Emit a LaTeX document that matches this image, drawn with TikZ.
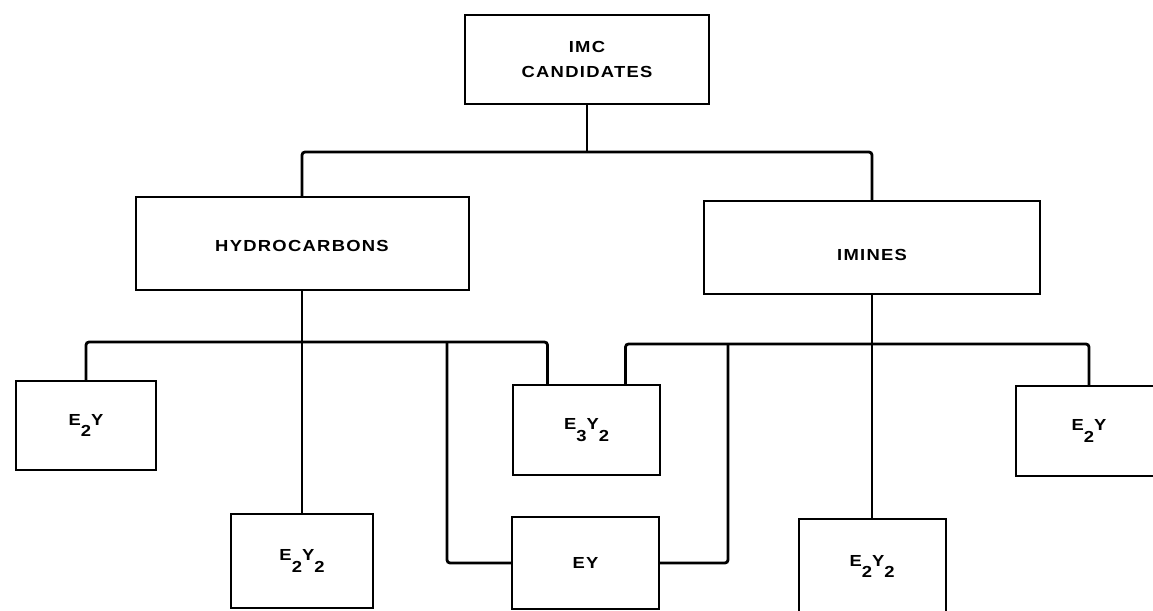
\documentclass[tikz,border=0pt]{standalone}
\usepackage{fontspec}
\newfontfamily\lbl[FakeStretch=1.15,LetterSpace=8]{Liberation Sans Bold}
\newcommand{\sbs}[1]{\raisebox{-11.5pt}{#1}}
\tikzset{
  box/.style={draw=black, line width=2pt, fill=white, inner sep=0pt, align=center,
    font=\lbl\fontsize{16}{25}\selectfont},
  conn/.style={draw=black, line width=2.8pt, rounded corners=3pt}
}
\begin{document}
\begin{tikzpicture}[x=1pt,y=-1pt]
\useasboundingbox (0,0) rectangle (1153,610);
\clip (0,0) rectangle (1153,610);
% nodes
\node[box, minimum width=244pt, minimum height=89pt] (imc) at (587,59.5) {IMC\\CANDIDATES};
\node[box, minimum width=333pt, minimum height=93pt] (hyd) at (302,243.5) {\rule{0pt}{17pt}HYDROCARBONS};
\node[box, minimum width=336pt, minimum height=93pt] (imi) at (872,247.5) {\rule{0pt}{27pt}IMINES};
\node[box, minimum width=140pt, minimum height=89pt] (e2yL) at (86,425.5) {E\sbs{2}Y};
\node[box, minimum width=142pt, minimum height=94pt] (e2y2L) at (302,561) {E\sbs{2}Y\sbs{2}};
\node[box, minimum width=147pt, minimum height=90pt] (e3y2) at (586.5,430) {E\sbs{3}Y\sbs{2}};
\node[box, minimum width=147pt, minimum height=92pt] (ey) at (585.5,563) {EY};
\node[box, minimum width=147pt, minimum height=95pt] (e2y2R) at (872,566.5) {E\sbs{2}Y\sbs{2}};
\node[box, minimum width=146pt, minimum height=90pt] (e2yR) at (1089,431) {E\sbs{2}Y};
% junction coordinates
\coordinate (b0) at (587,152);
\coordinate (b1) at (302,342);
\coordinate (b2) at (872,344);
\coordinate (c1) at (447,342);
\coordinate (c2) at (728,344);
% connectors
\draw[conn] (imc.south) -- (b0);
\draw[conn] (hyd.north) |- (b0) -| (imi.north);
\draw[conn] (hyd.south) -- (b1);
\draw[conn] (e2yL.north) |- (b1) -| ([xshift=-39pt]e3y2.north);
\draw[conn] (b1) -- (e2y2L.north);
\draw[conn] (ey.west) -| (c1);
\draw[conn] (imi.south) -- (b2);
\draw[conn] ([xshift=39pt]e3y2.north) |- (b2) -| (e2yR.north);
\draw[conn] (b2) -- (e2y2R.north);
\draw[conn] (ey.east) -| (c2);
\end{tikzpicture}
\end{document}
